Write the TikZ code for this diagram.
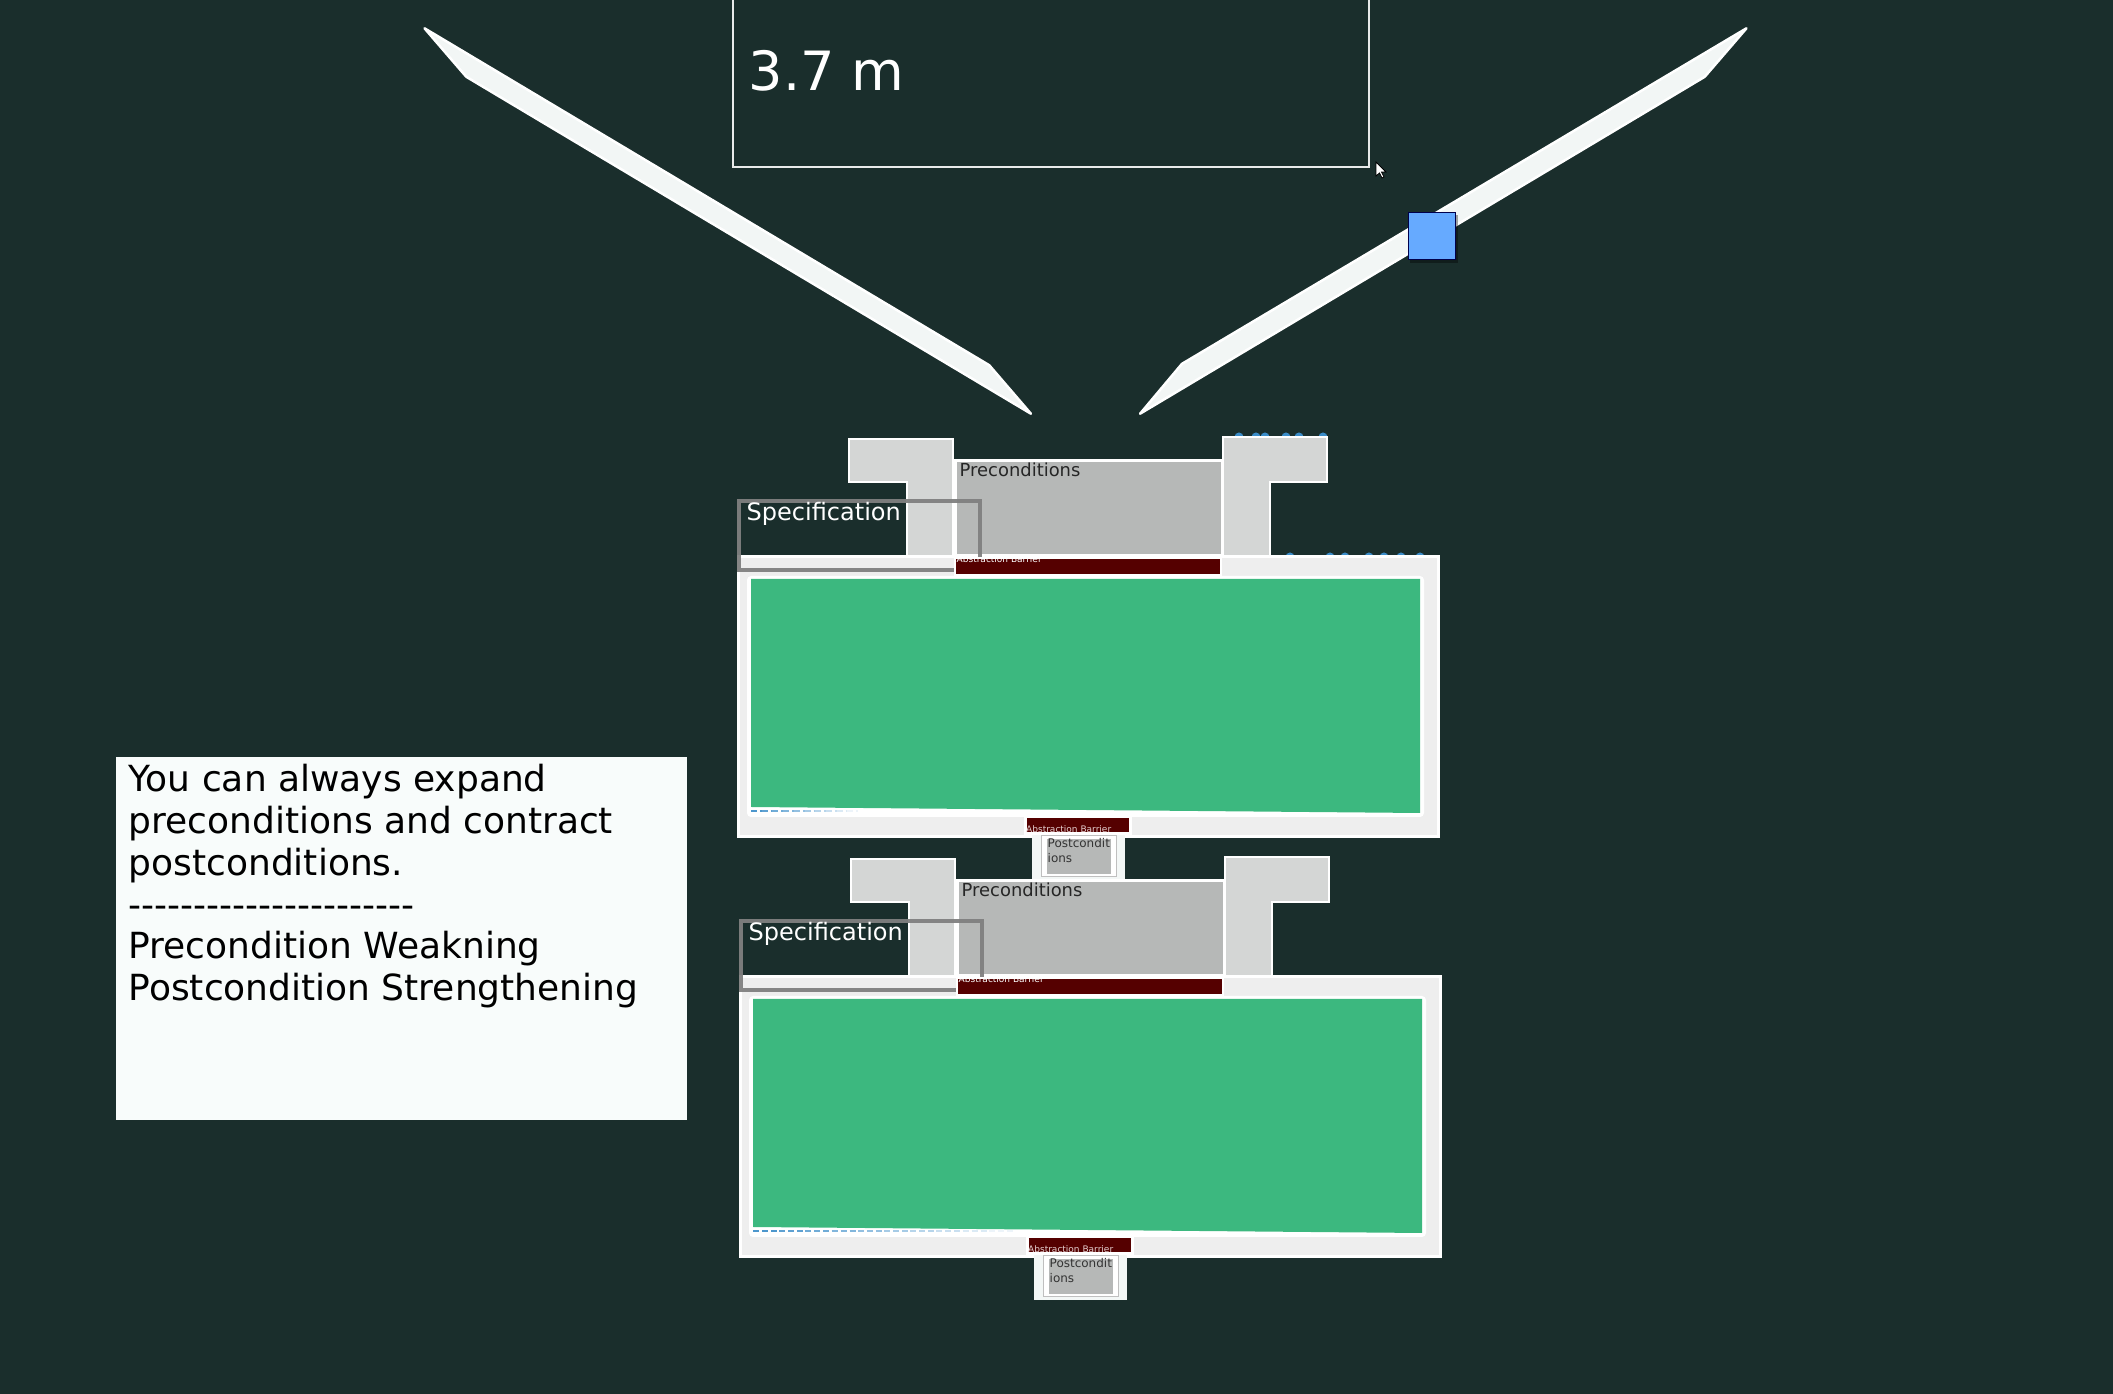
\documentclass[tikz,border=0pt]{standalone}
\usepackage{fontspec}
\setmainfont{DejaVu Sans}
\usepackage{tikz}

\definecolor{bgdark}{RGB}{26,46,44}
\definecolor{bladefill}{RGB}{242,246,245}
\definecolor{tgray}{RGB}{212,214,213}
\definecolor{precgray}{RGB}{182,184,183}
\definecolor{outergray}{RGB}{238,238,238}
\definecolor{codegreen}{RGB}{60,184,127}
\definecolor{barrierred}{RGB}{85,0,0}
\definecolor{barriertext}{RGB}{228,205,205}
\definecolor{specgray}{RGB}{128,128,128}
\definecolor{notefill}{RGB}{248,252,251}
\definecolor{handleblue}{RGB}{102,170,255}
\definecolor{dotblue}{RGB}{58,140,200}
\newcommand{\fsz}[2]{\fontsize{#1}{#2}\selectfont}
\newcommand{\hy}{-\kern0pt}

\begin{document}
\begin{tikzpicture}[x=0.1mm, y=-0.1mm,
  blade/.style={fill=bladefill, draw=white, line width=0.25mm, line join=round},
  tshape/.style={fill=tgray, draw=white, line width=0.25mm},
  frame/.style={draw=white, line width=0.3mm},
  lbl/.style={anchor=base west, inner sep=0pt}]
% page
\fill[bgdark] (0,0) rectangle (2113,1394);
\useasboundingbox (0,0) rectangle (2113,1394);

% scale readout
\draw[white!90!bgdark, line width=0.25mm] (733,-10) rectangle (1369,167);
\node[lbl, text=white, font=\fsz{15.4}{18}] (scale) at (748,91) {3.7 m};

% blades
\filldraw[blade] (424.5,28.3) -- (989.2,365.2) -- (1030.9,413.7) -- (466.3,76.8) -- cycle;
\filldraw[blade] (1746.5,28.3) -- (1181.9,363.9) -- (1140.1,413.7) -- (1704.7,76.8) -- cycle;

% handle and cursor
\fill[black, opacity=0.35] (1410,215) rectangle (1458,263);
\filldraw[fill=handleblue, draw=blue!30!black, line width=0.1mm] (1408,213) rectangle (1455,260);
\filldraw[fill=white, draw=black, line width=0.08mm] (1376,162) -- ++(0,14) -- ++(3.5,-3) -- ++(2.5,5) -- ++(2,-1) -- ++(-2.5,-5) -- ++(4.5,0) -- cycle;

% note
\fill[notefill] (116,757) rectangle (687,1120);
\node[anchor=north west, inner sep=0pt, align=left, font=\fsz{10.24}{11.9}] (note) at (128,763.6)
  {You can always expand\\preconditions and contract\\postconditions.\\
   \hy\hy\hy\hy\hy\hy\hy\hy\hy\hy\hy\hy\hy\hy\hy\hy\hy\hy\hy\hy\hy\hy\\
   Precondition Weakning\\Postcondition Strengthening};

% ports on the upper component
\foreach \x in {1239,1256,1265,1286,1299,1323}
  \fill[dotblue] (\x,437) circle[radius=4.5];
\foreach \x in {1290,1330,1345,1369,1384,1401,1420}
  \fill[dotblue] (\x,557) circle[radius=4.5];

% the two components
\foreach \dx/\dy/\fade in {0/0/107, 2/420/262}{
\begin{scope}[shift={(\dx,\dy)}]
\filldraw[tshape] (849,439) -- (953,439) -- (953,557) -- (907,557) -- (907,482) -- (849,482) -- cycle;
\filldraw[tshape] (1223,437) -- (1327,437) -- (1327,482) -- (1270,482) -- (1270,557) -- (1223,557) -- cycle;
\filldraw[fill=precgray, frame] (955,461) rectangle (1222,556);
\node[lbl, text=black!85, font=\fsz{5.1}{6}] (prec\dy) at (959,477) {Preconditions};
\filldraw[fill=outergray, frame] (738,557) rectangle (1438,837);
\fill[white, rounded corners=0.4mm] (747,576) rectangle (1424,817);
\fill[codegreen] (751,579) -- (1420,579) -- (1420,813) -- (751,807) -- cycle;
\foreach \k [evaluate=\k as \op using 0.9-\k*0.09] in {0,...,9}
  \draw[dotblue, line width=0.15mm, dash pattern=on 0.6mm off 0.3mm, opacity=\op]
    ({751+\k*\fade/10},811) -- ++({\fade/10},0);
\draw[specgray, line width=0.4mm, opacity=0.95] (739,501) rectangle (980,570);
\node[lbl, text=white, font=\fsz{6.83}{8}] (spec\dy) at (746,521) {Specification};
\filldraw[fill=barrierred, draw=white, line width=0.2mm] (955,558) rectangle (1221,575);
\begin{scope}
\clip (955,558) rectangle (1221,575);
\node[lbl, text=white, font=\fsz{2.56}{3}] (topbar\dy) at (956,562.5) {Abstraction Barrier};
\end{scope}
\filldraw[fill=barrierred, draw=white, line width=0.3mm] (1025,817) rectangle (1130,834);
\node[lbl, text=barriertext, font=\fsz{2.56}{3}] (botbar\dy) at (1025.5,832.5) {Abstraction Barrier};
\fill[notefill!96!gray] (1032,835) rectangle (1125,880);
\filldraw[fill=white, draw=black!25, line width=0.1mm] (1041,836) rectangle (1116,877);
\fill[precgray] (1047,839) rectangle (1111,874);
\node[lbl, text=black!80, font=\fsz{3.41}{4.27}, align=left] (post\dy) at (1047,863) {Postcondit\\ions};
\end{scope}}
\end{tikzpicture}
\end{document}
